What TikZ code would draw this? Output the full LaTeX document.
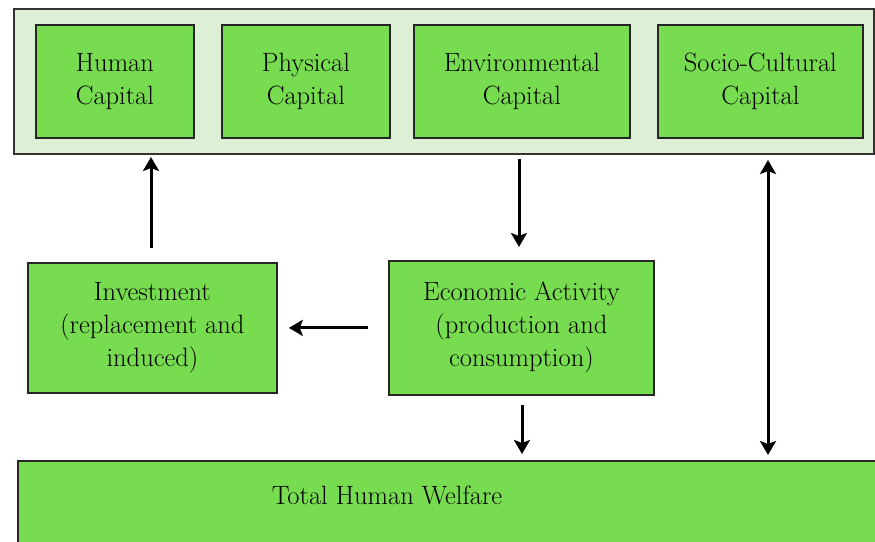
\documentclass[tikz,border=0pt]{standalone}
\usetikzlibrary{arrows.meta}
\definecolor{boxgreen}{HTML}{78DC50}
\definecolor{panelgreen}{HTML}{DDEFD4}
\tikzset{
  capbox/.style={draw=black!85,line width=1.8pt,fill=boxgreen,align=center,inner sep=0pt,
    font=\fontsize{26.5}{33}\selectfont},
  flow/.style={line width=3pt,-{Stealth[length=14pt,width=16pt,inset=3pt]}},
}
\begin{document}
\begin{tikzpicture}[x=1pt,y=-1pt]
  \useasboundingbox (0,0) rectangle (875,541);
  % capital stocks panel
  \node[draw=black!80,line width=1.6pt,fill=panelgreen,minimum width=860pt,minimum height=145pt,
    anchor=north west,inner sep=0pt] (stocks) at (13,8) {};
  \def\captop{24}
  \node[capbox,minimum width=158pt,minimum height=113pt,anchor=north west] (human) at (35,\captop) {Human\\Capital};
  \node[capbox,minimum width=168pt,minimum height=113pt,anchor=north west] (physical) at (221,\captop) {Physical\\Capital};
  \node[capbox,minimum width=216pt,minimum height=113pt,anchor=north west] (environ) at (413,\captop) {Environmental\\Capital};
  \node[capbox,minimum width=205pt,minimum height=113pt,anchor=north west] (socio) at (657,\captop) {Socio-Cultural\\Capital};

  % middle row
  \node[capbox,minimum width=249pt,minimum height=130pt,anchor=north west] (invest) at (27,262) {Investment\\(replacement and\\induced)};
  \node[capbox,minimum width=265pt,minimum height=134pt,anchor=north west] (econ) at (388,260) {Economic Activity\\(production and\\consumption)};

  % welfare
  \node[capbox,minimum width=880pt,minimum height=100pt,anchor=north west] (welfare) at (17,460) {};
  \node[font=\fontsize{26.5}{33}\selectfont] (welfaretxt) at (387,495) {Total Human Welfare};

  % flows
  \draw[flow,shorten <=14pt,shorten >=4pt] (151,262) -- (151,153);
  \draw[flow,shorten <=6pt,shorten >=13pt] (519,153) -- (519,260);
  \draw[flow,shorten <=20pt,shorten >=11pt] (econ.west) -- (invest.east |- econ.west);
  \draw[flow,shorten <=11pt,shorten >=6pt] (522,394) -- (522,460);
  \draw[line width=3pt,{Stealth[length=14pt,width=16pt,inset=3pt]}-{Stealth[length=14pt,width=16pt,inset=3pt]},
    shorten <=7pt,shorten >=5pt] (768,153) -- (768,460);
\end{tikzpicture}
\end{document}
